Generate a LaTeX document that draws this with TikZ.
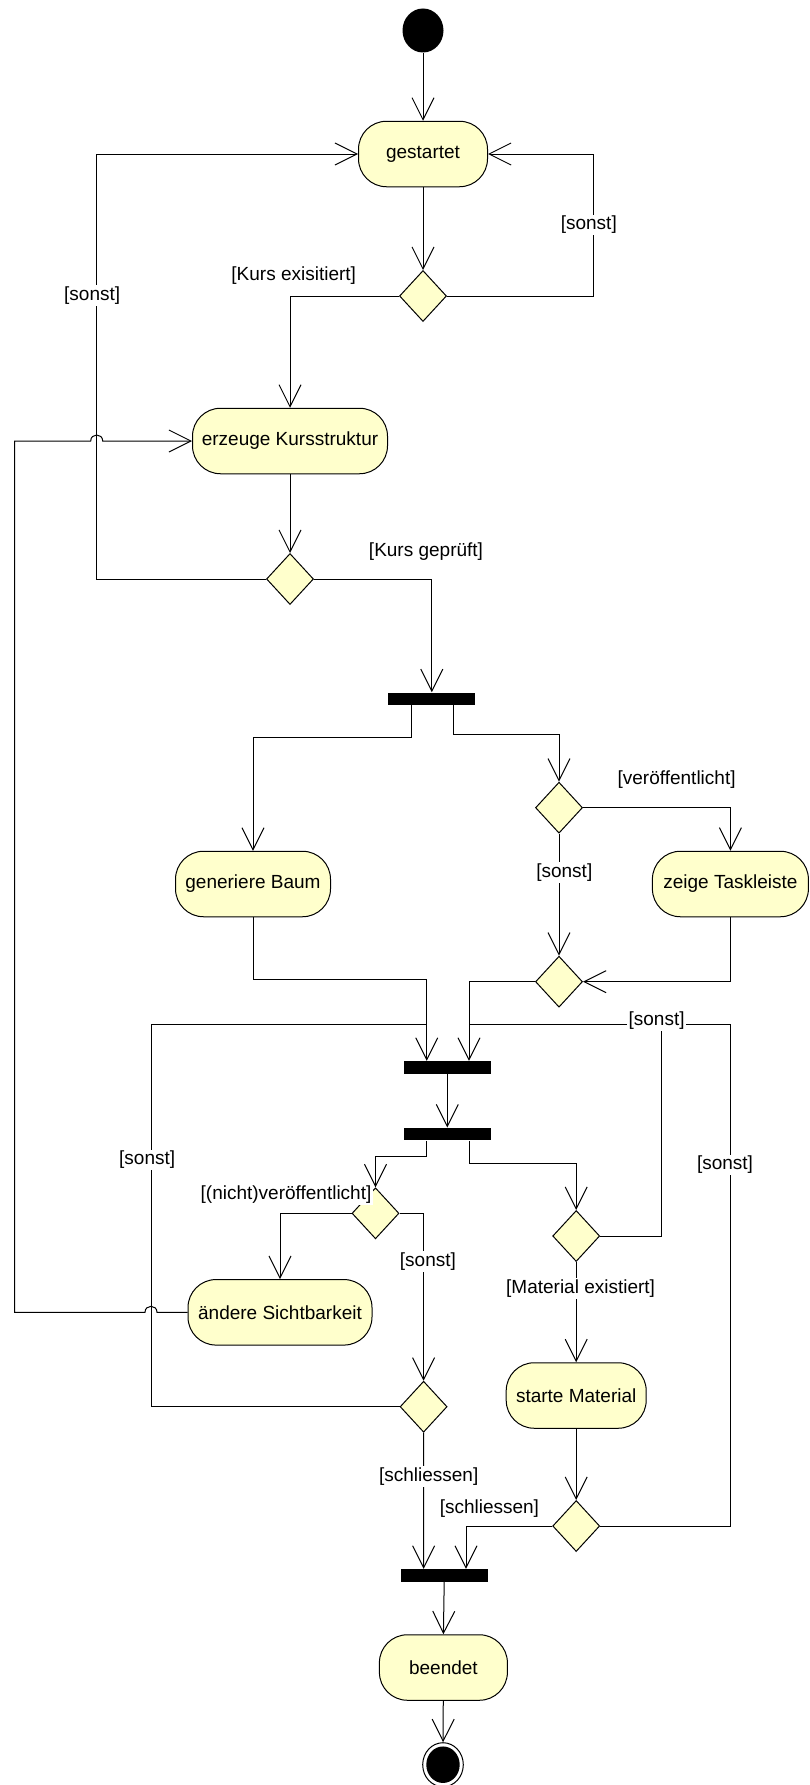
\documentclass[tikz,border=0pt]{standalone}
\usepackage{fontspec}
\setmainfont{Liberation Sans}
\usetikzlibrary{shapes.geometric,arrows.meta,calc}
\definecolor{actfill}{RGB}{255,255,204}
\newcommand\lab{\fontsize{19}{22}\selectfont}
\begin{document}
\begin{tikzpicture}[x=1pt,y=-1pt,line width=1pt,
  flow/.style={draw=black,-{Straight Barb[length=22pt,width=22pt]}},
  plain/.style={draw=black},
  act/.style={draw=black,fill=actfill,rounded corners=28pt,minimum height=65.5pt,inner sep=2pt,font=\lab},
  dec/.style={diamond,draw=black,fill=actfill,minimum width=47pt,minimum height=51pt,inner sep=0pt},
  bar/.style={rectangle,fill=black,minimum width=87pt,minimum height=12.3pt,inner sep=0pt},
  guard/.style={fill=white,inner sep=1.5pt,font=\lab},
  initial/.style={ellipse,fill=black,minimum width=41pt,minimum height=44pt,inner sep=0pt},
  final/.style={ellipse,draw=black,fill=white,minimum width=40.6pt,minimum height=44pt,inner sep=0pt},
  finalcore/.style={ellipse,fill=black,minimum width=33.4pt,minimum height=36.5pt,inner sep=0pt}]
\useasboundingbox (0,0) rectangle (810,1785);

% activities, decisions and bars
\node[initial] (start) at (423,30.5) {};
\node[act,minimum width=129pt] (gest) at (423,154) {gestartet};
\node[dec] (d1) at (423,296) {};
\node[act,minimum width=195pt] (erz) at (290,441) {erzeuge Kursstruktur};
\node[dec] (d2) at (290,579) {};
\node[bar] (fork1) at (431.8,698.8) {};
\node[act,minimum width=155pt] (gen) at (253,884) {generiere Baum};
\node[dec] (d3) at (559,807.7) {};
\node[act,minimum width=156pt] (zeige) at (730.4,884) {zeige Taskleiste};
\node[dec] (d4) at (559,981.7) {};
\node[bar] (join1) at (447.3,1067.5) {};
\node[bar] (join2) at (447.3,1134.2) {};
\node[dec] (d5) at (375.5,1213.3) {};
\node[act,minimum width=184pt] (aend) at (280,1312.3) {ändere Sichtbarkeit};
\node[dec] (d6) at (576.2,1236) {};
\node[dec] (d7) at (423.6,1406.7) {};
\node[act,minimum width=140pt] (starte) at (576.2,1395.5) {starte Material};
\node[dec] (d8) at (576.2,1526) {};
\node[bar] (join3) at (444.2,1575.5) {};
\node[act,minimum width=128pt] (beend) at (443.4,1667.5) {beendet};
\node[final] (end) at (443,1764.7) {};
\node[finalcore] (endcore) at (end) {};

% merge points above the first join bar
\coordinate (mL) at (426.7,1024.3);
\coordinate (mR) at (469,1024.3);

% control flows
\draw[flow] (start) -- (gest);
\draw[flow] (gest) -- (d1);
\draw[flow] (d1.west) -| (erz.north);
\draw[flow] (d1.east) -| ([xshift=105.5pt]gest.east) -- (gest.east);
\draw[flow] (erz) -- (d2);
\draw[flow] (d2.west) -| ([xshift=-261.8pt]gest.west) -- (gest.west);
\draw[flow] (d2.east) -| (fork1.north);
\draw[flow] ([xshift=-20.8pt]fork1.south) -- ++(0,31.7) -| (gen.north);
\draw[flow] ([xshift=21.7pt]fork1.south) -- ++(0,29) -| (d3.north);
\draw[flow] (d3.east) -| (zeige.north);
\draw[flow] (d3) -- (d4);
\draw[flow] (zeige.south) |- (d4.east);
\draw[flow] (d4.west) -| ([xshift=21.7pt]join1.north);
\draw[flow] (gen.south) -- ++(0,62.3) -| ([xshift=-20.6pt]join1.north);
\draw[flow] (join1) -- (join2);
\draw[flow] ([xshift=-20.6pt]join2.south) -- ++(0,15.7) -| (d5.north);
\draw[flow] ([xshift=21.7pt]join2.south) -- ++(0,23) -| (d6.north);
\draw[flow] (d5.west) -| (aend.north);
\draw[flow] (d5.east) -| (d7.north);
\draw[flow] (aend.west) -- (157,1312.3)
   .. controls (157,1304.3) and (145,1304.3) .. (145,1312.3)
   -- (14.5,1312.3) -- (14.5,441) -- (90.7,441)
   .. controls (90.7,433) and (102.7,433) .. (102.7,441) -- (erz.west);
\draw[plain] (d7.west) -| (151,1024.3) -- (mL);
\draw[flow] (d7.south) -- ([xshift=-20.6pt]join3.north);
\draw[plain] (d6.east) -| (661,1024.3) -- (mR);
\draw[flow] (d6) -- (starte);
\draw[flow] (starte) -- (d8);
\draw[plain] (d8.east) -| (730.4,1024.3) -- (mR);
\draw[flow] (d8.west) -| ([xshift=21.8pt]join3.north);
\draw[flow] (join3.south) -- (beend.north);
\draw[flow] (beend) -- (end);

% guards
\node[guard] (g1) at (293.7,276) {[Kurs exisitiert]};
\node[guard] (g2) at (588.8,225) {[sonst]};
\node[guard] (g3) at (92.2,295.3) {[sonst]};
\node[guard] (g4) at (426,551.7) {[Kurs geprüft]};
\node[guard] (g5) at (676.6,780) {[veröffentlicht]};
\node[guard] (g6) at (564.3,872.7) {[sonst]};
\node[guard] (g7) at (656.6,1020.5) {[sonst]};
\node[guard] (g8) at (147.2,1160) {[sonst]};
\node[guard] (g9) at (725,1165) {[sonst]};
\node[guard] (g10) at (286,1195) {[(nicht)veröffentlicht]};
\node[guard] (g11) at (427.9,1261.7) {[sonst]};
\node[guard] (g12) at (580.6,1288.3) {[Material existiert]};
\node[guard] (g13) at (428.7,1476.7) {[schliessen]};
\node[guard] (g14) at (489.4,1508.3) {[schliessen]};
\end{tikzpicture}
\end{document}
